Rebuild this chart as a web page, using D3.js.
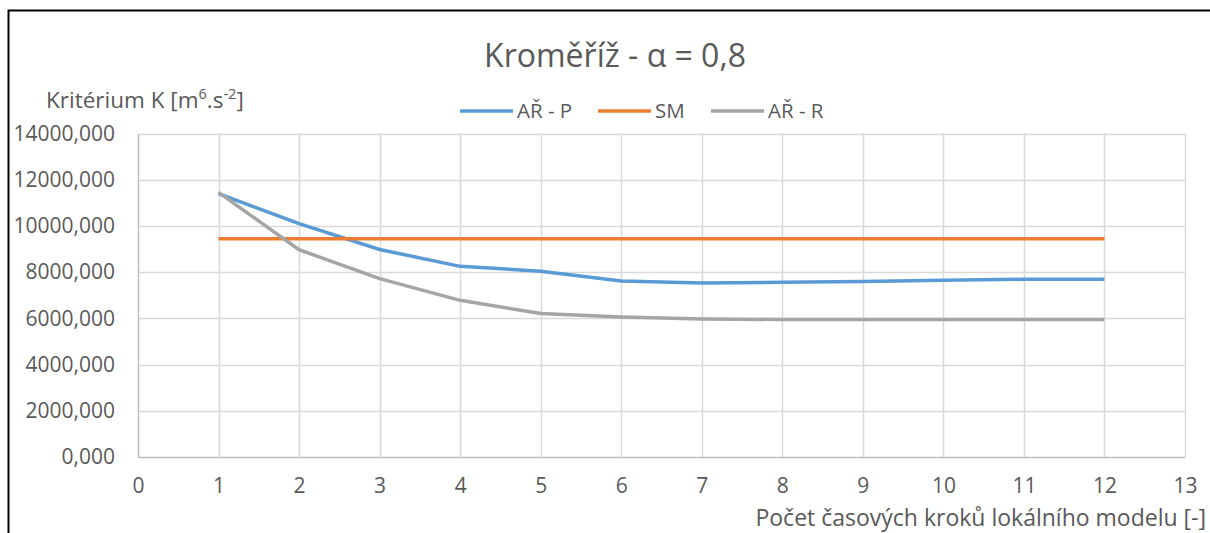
<!DOCTYPE html>
<html lang="cs">
<head>
  <meta charset="UTF-8">
  <title>Kroměříž - α = 0,8</title>
  <script src="https://d3js.org/d3.v7.min.js"></script>
  <style>
    body { margin: 0; background: #fff; }
    text { font-family: "Open Sans", "Noto Sans", sans-serif; fill: #595959; }
  </style>
</head>
<body>
  <svg id="chart" width="1210" height="533"></svg>
  <script>
    // data
    const steps = [1, 2, 3, 4, 5, 6, 7, 8, 9, 10, 11, 12];
    const arP = [11400, 10100, 8980, 8250, 8040, 7620, 7530, 7560, 7590, 7650, 7690, 7690];
    const sm = [9450, 9450, 9450, 9450, 9450, 9450, 9450, 9450, 9450, 9450, 9450, 9450];
    const arR = [11450, 8970, 7720, 6780, 6210, 6060, 5975, 5950, 5950, 5950, 5950, 5950];
    const seriesNames = ["AŘ - P", "SM", "AŘ - R"];
    const colors = ["#5b9bd5", "#ed7d31", "#a5a5a5"];
    const xTicks = d3.range(0, 14);
    const yTicks = d3.range(0, 14001, 2000);

    const svg = d3.select("#chart");
    const plotL = 138, plotR = 1185, plotT = 133.5, plotB = 457;

    const x = d3.scaleLinear().domain([0, 13]).range([plotL, plotR]);
    const y = d3.scaleLinear().domain([0, 14000]).range([plotB, plotT]);

    // outer frame (only top and left edges visible)
    svg.append("path")
      .attr("d", "M8.5,533 V10.5 H1210")
      .attr("fill", "none")
      .attr("stroke", "#000")
      .attr("stroke-width", 2);

    // gridlines
    svg.append("g")
      .selectAll("line")
      .data(yTicks.filter(d => d > 0))
      .join("line")
      .attr("x1", plotL).attr("x2", plotR)
      .attr("y1", d => Math.round(y(d)) + 0.5).attr("y2", d => Math.round(y(d)) + 0.5)
      .attr("stroke", "#d9d9d9").attr("stroke-width", 1.5);

    svg.append("g")
      .selectAll("line")
      .data(xTicks.filter(d => d > 0))
      .join("line")
      .attr("x1", d => Math.round(x(d)) + 0.5).attr("x2", d => Math.round(x(d)) + 0.5)
      .attr("y1", plotT).attr("y2", plotB)
      .attr("stroke", "#d9d9d9").attr("stroke-width", 1.5);

    // axes
    const xAxis = svg.append("g")
      .attr("transform", `translate(0,${plotB})`)
      .call(d3.axisBottom(x).tickValues(xTicks).tickSize(0).tickPadding(21));
    const yAxis = svg.append("g")
      .attr("transform", `translate(${plotL},0)`)
      .call(d3.axisLeft(y).tickValues(yTicks).tickSize(0).tickPadding(23)
        .tickFormat(d => d3.format(".3f")(d).replace(".", ",")));

    [xAxis, yAxis].forEach(a => {
      a.select(".domain").attr("stroke", "#bfbfbf").attr("stroke-width", 1.5);
      a.selectAll("text").attr("font-size", 21).attr("fill", "#595959")
        .attr("font-family", "'Open Sans', 'Noto Sans', sans-serif");
    });

    // lines
    const line = d3.line().x((d, i) => x(steps[i])).y(d => y(d));
    [arP, sm, arR].forEach((vals, k) => {
      svg.append("path")
        .datum(vals)
        .attr("d", line)
        .attr("fill", "none")
        .attr("stroke", colors[k])
        .attr("stroke-width", 3.5)
        .attr("stroke-linejoin", "round");
    });

    // title
    svg.append("text")
      .attr("x", 615).attr("y", 67)
      .attr("text-anchor", "middle")
      .attr("font-size", 32)
      .text("Kroměříž - α = 0,8");

    // legend
    const legendX = [460, 598, 711];
    seriesNames.forEach((name, k) => {
      const g = svg.append("g").attr("transform", `translate(${legendX[k]},111)`);
      g.append("line").attr("x1", 0).attr("x2", 53)
        .attr("stroke", colors[k]).attr("stroke-width", 3.5);
      g.append("text").attr("x", 57).attr("y", 7)
        .attr("font-size", 20.5).text(name);
    });

    // axis titles
    const yTitle = svg.append("text").attr("x", 46).attr("y", 108).attr("font-size", 22.5);
    yTitle.append("tspan").text("Kritérium K [m");
    yTitle.append("tspan").attr("font-size", 14.5).attr("dy", -9).text("6");
    yTitle.append("tspan").attr("dy", 9).text(".s");
    yTitle.append("tspan").attr("font-size", 14.5).attr("dy", -9).text("-2");
    yTitle.append("tspan").attr("dy", 9).text("]");

    svg.append("text")
      .attr("x", 1206).attr("y", 526)
      .attr("text-anchor", "end")
      .attr("font-size", 23)
      .text("Počet časových kroků lokálního modelu [-]");
  </script>
</body>
</html>
